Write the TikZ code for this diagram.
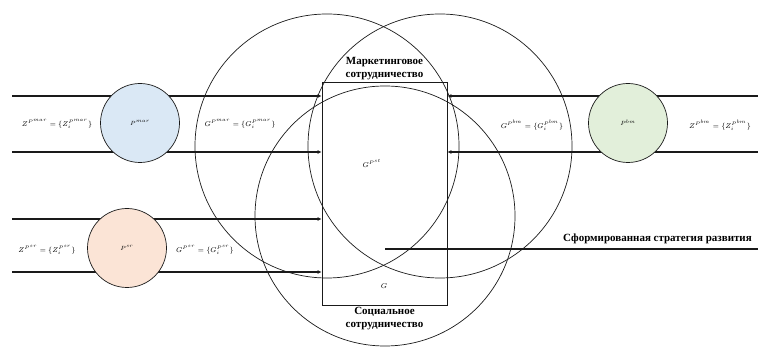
\documentclass[tikz,border=0pt]{standalone}
\usepackage{fontspec}
\setmainfont{Liberation Serif}
\usepackage{tikz}
\usetikzlibrary{arrows.meta,positioning,calc}
\definecolor{MarBlue}{HTML}{DAE8F5}
\definecolor{BmGreen}{HTML}{E2EFDA}
\definecolor{SrPeach}{HTML}{FBE4D6}
\definecolor{LineDark}{HTML}{1A1A1A}

\begin{document}
\begin{tikzpicture}[x=1pt,y=-1pt,
  zone/.style={circle,draw=LineDark,line width=0.7pt,inner sep=0pt},
  party/.style={circle,draw=LineDark,line width=0.7pt,minimum size=79pt,inner sep=0pt,font=\fontsize{6.5}{7.5}\selectfont},
  flow/.style={-{Latex[length=4pt,width=4pt]},line width=2.2pt,LineDark},
  lbl/.style={font=\fontsize{7.5}{8.5}\selectfont,inner sep=1pt},
  zonecap/.style={font=\fontsize{11}{13}\selectfont\bfseries,align=center,inner sep=1pt},
]
\useasboundingbox (0,0) rectangle (758,347);
% three cooperation zones
\node[zone,minimum size=264pt] (marz) at (327,146) {};
\node[zone,minimum size=264pt] (bmz) at (440,146) {};
\node[zone,minimum size=260pt] (socz) at (385,216) {};
\node[draw=LineDark,line width=0.7pt,minimum width=125pt,minimum height=223pt,inner sep=0pt] (box) at (384.5,193.5) {};
% flows
\coordinate (l1) at (12,96);
\coordinate (l2) at (12,152);
\coordinate (l3) at (12,219);
\coordinate (l4) at (12,272);
\coordinate (r1) at (758,96);
\coordinate (r2) at (758,152);
\coordinate (out) at (385,249);
\coordinate (outend) at (758,249);
\draw[flow] (l1) -- (l1 -| box.west);
\draw[flow] (l2) -- (l2 -| box.west);
\draw[flow] (l3) -- (l3 -| box.west);
\draw[flow] (l4) -- (l4 -| box.west);
\draw[flow] (r1) -- (r1 -| box.east);
\draw[flow] (r2) -- (r2 -| box.east);
\draw[line width=2.2pt,LineDark] (out) -- (outend);
% participants
\node[party,fill=MarBlue] (pmar) at (140,123) {$P^{mar}$};
\node[party,fill=BmGreen] (pbm) at (628,123) {$P^{bm}$};
\node[party,fill=SrPeach] (psr) at (127,248) {$P^{sr}$};
% labels
\node[lbl] (zmar) at (57,124) {$Z^{P^{mar}}=\{Z_i^{P^{mar}}\}$};
\node[lbl] (gmar) at (240,124) {$G^{P^{mar}}=\{G_i^{P^{mar}}\}$};
\node[lbl] (gbm) at (532,125) {$G^{P^{bm}}=\{G_i^{P^{bm}}\}$};
\node[lbl] (zbm) at (720,125) {$Z^{P^{bm}}=\{Z_i^{P^{bm}}\}$};
\node[lbl] (zsr) at (47,250) {$Z^{P^{sr}}=\{Z_i^{P^{sr}}\}$};
\node[lbl] (gsr) at (205,250) {$G^{P^{sr}}=\{G_i^{P^{sr}}\}$};
\node[lbl] (gst) at (372,163) {$G^{P^{st}}$};
\node[lbl] (g) at (384,286) {$G$};
\node[zonecap,above=1pt of box.north] (mark) {Маркетинговое\\сотрудничество};
\node[zonecap,below=1pt of box.south] (soc) {Социальное\\сотрудничество};
\node[zonecap,anchor=south east] (strat) at (753,245) {Сформированная стратегия развития};
\end{tikzpicture}
\end{document}
